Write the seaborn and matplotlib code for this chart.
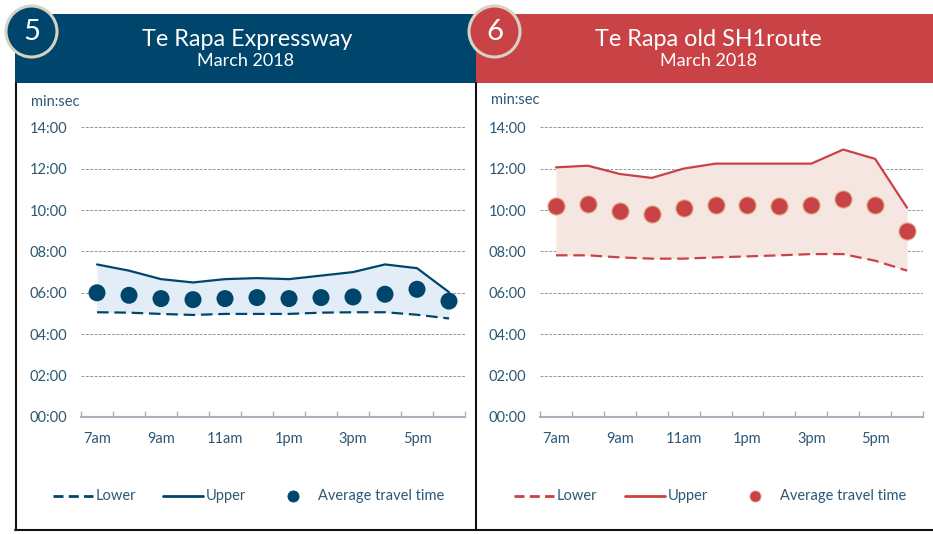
import numpy as np
import pandas as pd
import matplotlib
matplotlib.use("Agg")
import matplotlib.pyplot as plt
import seaborn as sns
from matplotlib.patches import Rectangle, Circle
from matplotlib.lines import Line2D

# ---------------- data (minutes, decimal) ----------------
slots = list(range(12))  # 7am .. 6pm hourly slots
tick_labels = ["7am", "9am", "11am", "1pm", "3pm", "5pm"]
ytick_labels = ["00:00", "02:00", "04:00", "06:00", "08:00", "10:00", "12:00", "14:00"]

exp_upper = [7.37, 7.07, 6.66, 6.50, 6.66, 6.71, 6.66, 6.83, 7.00, 7.37, 7.19, 6.03]
exp_avg = [6.00, 5.88, 5.72, 5.67, 5.72, 5.77, 5.72, 5.77, 5.80, 5.93, 6.17, 5.60]
exp_lower = [5.06, 5.04, 4.98, 4.93, 4.98, 4.98, 4.98, 5.04, 5.06, 5.06, 4.94, 4.76]

old_upper = [12.06, 12.14, 11.74, 11.55, 12.00, 12.24, 12.24, 12.24, 12.24, 12.92, 12.47, 10.11]
old_avg = [10.18, 10.31, 9.97, 9.79, 10.10, 10.26, 10.26, 10.19, 10.26, 10.53, 10.26, 8.97]
old_lower = [7.81, 7.81, 7.71, 7.65, 7.65, 7.71, 7.76, 7.81, 7.87, 7.87, 7.55, 7.07]

# ---------------- style ----------------
sns.set_theme(style="white")
plt.rcParams["font.family"] = ["Lato", "DejaVu Sans"]

W, H = 933, 534
fig = plt.figure(figsize=(W / 100, H / 100), dpi=100)

TXT = "#2b5876"
GRID = "#8c97a8"
AXIS = "#a9b1bd"
BLUE = "#00466c"
RED = "#c94245"
RING = "#d6d3c4"


def fx(px):
    return px / W


def fy(py):
    return 1 - py / H


def panel(ax_left, ax_right, df, color, fill, edge):
    y0, y1 = 417, 417 - 14.25 * 20.7
    ax = fig.add_axes([fx(ax_left), fy(y0), fx(ax_right - ax_left), (y0 - y1) / H])
    ax.fill_between(df["slot"], df["lower"], df["upper"], color=fill, lw=0, zorder=1)
    sns.lineplot(data=df, x="slot", y="upper", ax=ax, color=color, lw=1.6, zorder=2)
    sns.lineplot(data=df, x="slot", y="lower", ax=ax, color=color, lw=1.6, zorder=2)
    ax.lines[-1].set_dashes([5.2, 2.6])
    sns.scatterplot(data=df, x="slot", y="avg", ax=ax, color=color, s=150,
                    edgecolor=edge, linewidth=0.8 if edge != "none" else 0, zorder=3)
    ax.set_xlim(-0.5, 11.5)
    ax.set_ylim(0, 14.25)
    ax.set_xlabel("")
    ax.set_ylabel("")
    ax.set_yticks(range(0, 15, 2))
    ax.set_yticklabels(ytick_labels)
    ax.set_xticks(slots[::2])
    ax.set_xticklabels(tick_labels)
    ax.set_xticks(np.arange(-0.5, 12, 1.0), minor=True)
    ax.tick_params(axis="y", length=0, pad=10, labelsize=10.5, labelcolor=TXT)
    ax.tick_params(axis="x", which="major", length=0, pad=11, labelsize=10.5, labelcolor=TXT)
    ax.tick_params(axis="x", which="minor", direction="in", length=4, width=1, color=AXIS, bottom=True)
    for s in ["left", "right", "top"]:
        ax.spines[s].set_visible(False)
    ax.spines["bottom"].set_color(AXIS)
    ax.spines["bottom"].set_linewidth(1.5)
    ax.spines["bottom"].set_zorder(4)
    ax.grid(axis="y", color=GRID, lw=0.7, ls=(0, (3, 1.5)))
    ax.grid(axis="x", visible=False)
    ax.set_axisbelow(True)
    ax.set_facecolor("none")
    if ax.get_legend() is not None:
        ax.get_legend().remove()
    return ax


df_exp = pd.DataFrame({"slot": slots, "lower": exp_lower, "upper": exp_upper, "avg": exp_avg})
df_old = pd.DataFrame({"slot": slots, "lower": old_lower, "upper": old_upper, "avg": old_avg})

panel(81, 465, df_exp, BLUE, "#e2edf7", "none")
panel(540, 923, df_old, RED, "#f5e6e1", "#dba67f")

# ---------------- headers ----------------
fig.add_artist(Rectangle((fx(15), fy(83)), fx(476 - 15), (83 - 14) / H, transform=fig.transFigure,
                         color=BLUE, lw=0, zorder=0))
fig.add_artist(Rectangle((fx(476), fy(83)), fx(933 - 476), (83 - 14) / H, transform=fig.transFigure,
                         color=RED, lw=0, zorder=0))

fig.text(fx(247), fy(40), "Te Rapa Expressway", color="white", fontsize=16.8, ha="center", va="center")
fig.text(fx(246), fy(61), "March 2018", color="white", fontsize=13, ha="center", va="center")
fig.text(fx(708), fy(40), "Te Rapa old SH1route", color="white", fontsize=16.8, ha="center", va="center")
fig.text(fx(708), fy(61), "March 2018", color="white", fontsize=13, ha="center", va="center")

for cx, num, col in [(31.5, "5", BLUE), (494.5, "6", RED)]:
    fig.add_artist(Circle((cx / 100, (H - 31.5) / 100), 0.255, transform=fig.dpi_scale_trans,
                          facecolor=col, edgecolor=RING, lw=2.2, zorder=5))
    fig.text(fx(cx), fy(32), num, color="white", fontsize=21, ha="center", va="center", zorder=6)

# ---------------- borders ----------------
fig.add_artist(Line2D([fx(15.5), fx(15.5)], [fy(83), fy(530)], color="#111111", lw=1.5, transform=fig.transFigure))
fig.add_artist(Line2D([fx(475.5), fx(475.5)], [fy(83), fy(530)], color="#111111", lw=1.5, transform=fig.transFigure))
fig.add_artist(Line2D([fx(15), fx(933)], [fy(530), fy(530)], color="#111111", lw=1.5, transform=fig.transFigure))

# ---------------- unit labels ----------------
fig.text(fx(31), fy(102), "min:sec", color=TXT, fontsize=10.5, ha="left", va="center")
fig.text(fx(491), fy(100), "min:sec", color=TXT, fontsize=10.5, ha="left", va="center")

# ---------------- legends ----------------
def legend(x_dash, x_solid, x_dot, color, edge):
    yy = fy(496)
    fig.add_artist(Line2D([fx(x_dash), fx(x_dash + 40)], [yy, yy], color=color, lw=2,
                          dashes=[3.6, 1.9], transform=fig.transFigure))
    fig.text(fx(x_dash + 43), yy, "Lower", color=TXT, fontsize=10.5, ha="left", va="center")
    fig.add_artist(Line2D([fx(x_solid), fx(x_solid + 40)], [yy, yy], color=color, lw=2,
                          transform=fig.transFigure))
    fig.text(fx(x_solid + 43), yy, "Upper", color=TXT, fontsize=10.5, ha="left", va="center")
    fig.add_artist(Line2D([fx(x_dot)], [yy], marker="o", ms=8, color=color, mec=edge, mew=0.6,
                          lw=0, transform=fig.transFigure))
    fig.text(fx(x_dot + 25), yy, "Average travel time", color=TXT, fontsize=10.5, ha="left", va="center")


legend(53, 163, 293, BLUE, BLUE)
legend(514, 625, 755, RED, "#dba67f")

fig.savefig("out.png", dpi=100)
